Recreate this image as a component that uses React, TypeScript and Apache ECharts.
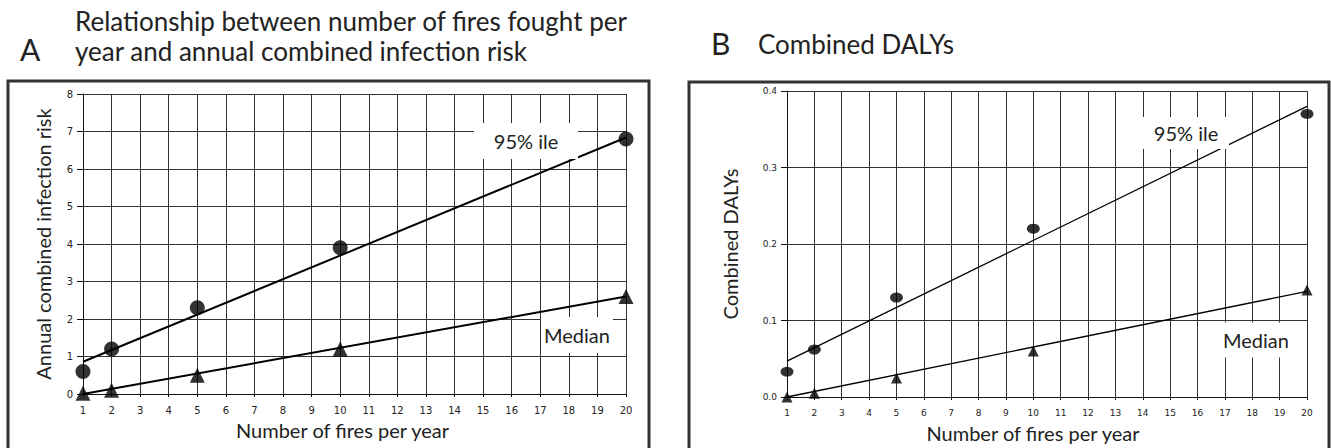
import React, { useEffect, useRef } from "react";
import * as echarts from "echarts";

// Observed fire counts and scenario values
const firesObserved = [1, 2, 5, 10, 20];
const riskP95 = [0.6, 1.2, 2.3, 3.9, 6.8];
const riskMedian = [0.02, 0.1, 0.5, 1.2, 2.6];
const dalyP95 = [0.033, 0.062, 0.13, 0.22, 0.37];
const dalyMedian = [0.0, 0.005, 0.025, 0.06, 0.14];

// Trend-line end points
const fitX = [1, 20];
const riskP95Fit = [0.86, 6.84];
const riskMedianFit = [0, 2.6];
const dalyP95Fit = [0.047, 0.38];
const dalyMedianFit = [0, 0.138];

const titleA = "Relationship between number of fires fought per\nyear and annual combined infection risk";
const titleB = "Combined DALYs";
const yNameA = "Annual combined infection risk";
const yNameB = "Combined DALYs";
const xName = "Number of fires per year";

const pairs = (xs: number[], ys: number[]) => xs.map((x, i) => [x, ys[i]]);

const TXT = "#222";
const GRID = "#333";
const FONT = "Lato, 'Open Sans', sans-serif";
const TICKFONT = "'DejaVu Sans', sans-serif";

export default function App() {
  const ref = useRef<HTMLDivElement>(null);
  useEffect(() => {
    if (!ref.current) return;
    const chart = echarts.init(ref.current, undefined, { renderer: "svg" });

    const xAxisBase = (gridIndex: number, gap: number, shift: number, labelSize: number) => ({
      type: "value" as const,
      gridIndex,
      min: 1,
      max: 20,
      interval: 1,
      name: xName,
      nameLocation: "middle" as const,
      nameGap: gap,
      nameTextStyle: { fontFamily: FONT, fontSize: 20, color: TXT, padding: [0, shift, 0, 0] },
      axisLine: { show: true, lineStyle: { color: "#111", width: 1 } },
      axisTick: { show: true, length: 3, lineStyle: { color: "#111" } },
      axisLabel: { fontFamily: TICKFONT, fontSize: labelSize, color: TXT, margin: 11 },
      splitLine: { show: true, lineStyle: { color: GRID, width: 1 } },
    });

    const yAxisBase = (gridIndex: number, max: number, interval: number, name: string, gap: number, labelSize: number, fmt: (v: number) => string) => ({
      type: "value" as const,
      gridIndex,
      min: 0,
      max,
      interval,
      name,
      nameLocation: "middle" as const,
      nameGap: gap,
      nameTextStyle: { fontFamily: FONT, fontSize: 20, color: TXT },
      axisLine: { show: true, lineStyle: { color: "#111", width: 1 } },
      axisTick: { show: true, length: 6, lineStyle: { color: "#111" } },
      axisLabel: { fontFamily: TICKFONT, fontSize: labelSize, color: TXT, margin: 10, formatter: fmt },
      splitLine: { show: true, lineStyle: { color: GRID, width: 1 } },
    });

    const scatter = (xi: number, data: number[], symbol: string, size: any) => ({
      type: "scatter" as const,
      xAxisIndex: xi,
      yAxisIndex: xi,
      data: pairs(firesObserved, data),
      symbol,
      symbolSize: size,
      itemStyle: { color: "#000" },
      z: 4,
    });

    const fit = (xi: number, data: number[], width: number) => ({
      type: "line" as const,
      xAxisIndex: xi,
      yAxisIndex: xi,
      data: pairs(fitX, data),
      showSymbol: false,
      symbol: "none",
      lineStyle: { color: "#000", width },
      z: 3,
    });

    const labelBox = (cx: number, cy: number, w: number, h: number, text: string) => [
      { type: "rect", shape: { x: cx - w / 2, y: cy - h / 2, width: w, height: h }, style: { fill: "#fff" }, z: 10 },
      {
        type: "text",
        x: cx,
        y: cy,
        z: 11,
        style: { text, fontFamily: FONT, fontSize: 20, fill: TXT, textAlign: "center", textVerticalAlign: "middle" },
      },
    ];

    chart.setOption({
      animation: false,
      backgroundColor: "#fff",
      grid: [
        { left: 83, top: 94, width: 543, height: 300 },
        { left: 787, top: 91, width: 520, height: 306 },
      ],
      xAxis: [xAxisBase(0, 25, 24, 10), xAxisBase(1, 26, 28, 9)],
      yAxis: [
        yAxisBase(0, 8, 1, yNameA, 30, 10, (v: number) => String(v)),
        yAxisBase(1, 0.4, 0.1, yNameB, 47, 9, (v: number) => v.toFixed(1)),
      ],
      series: [
        fit(0, riskP95Fit, 2),
        fit(0, riskMedianFit, 2),
        scatter(0, riskP95, "circle", 15),
        scatter(0, riskMedian, "triangle", 15),
        fit(1, dalyP95Fit, 1.3),
        fit(1, dalyMedianFit, 1.3),
        scatter(1, dalyP95, "circle", [13, 10]),
        scatter(1, dalyMedian, "triangle", 11),
      ],
      graphic: [
        { type: "rect", shape: { x: 8, y: 81, width: 641, height: 375 }, style: { fill: "none", stroke: "#333", lineWidth: 3 }, z: 1 },
        { type: "rect", shape: { x: 689, y: 82, width: 640, height: 375 }, style: { fill: "none", stroke: "#333", lineWidth: 3 }, z: 1 },
        { type: "text", x: 20, y: 49, style: { text: "A", fontFamily: FONT, fontSize: 30, fill: TXT, textVerticalAlign: "middle" } },
        { type: "text", x: 75, y: 6, style: { text: titleA, fontFamily: FONT, fontSize: 26, lineHeight: 30, fill: TXT } },
        { type: "text", x: 711, y: 43, style: { text: "B", fontFamily: FONT, fontSize: 30, fill: TXT, textVerticalAlign: "middle" } },
        { type: "text", x: 758, y: 44, style: { text: titleB, fontFamily: FONT, fontSize: 26, fill: TXT, textVerticalAlign: "middle" } },
        ...labelBox(526, 141, 104, 36, "95% ile"),
        ...labelBox(577, 335, 72, 36, "Median"),
        ...labelBox(1186, 133, 86, 32, "95% ile"),
        ...labelBox(1256, 340, 70, 35, "Median"),
      ],
    });
    return () => chart.dispose();
  }, []);
  return <div ref={ref} style={{ position: "absolute", left: 0, top: 0, width: 1331, height: 448 }} />;
}
